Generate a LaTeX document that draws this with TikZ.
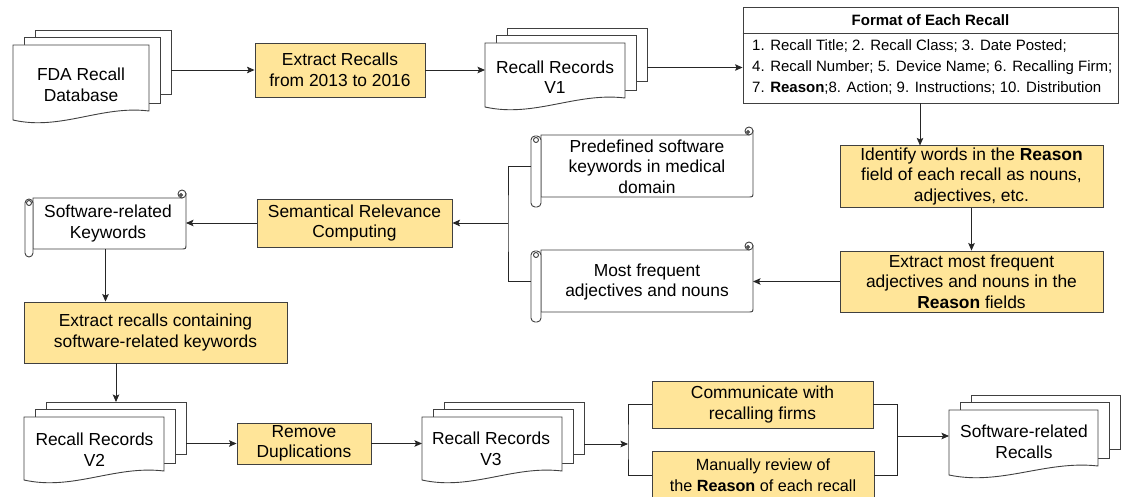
\documentclass[tikz,border=0pt]{standalone}
\usepackage{fontspec}
\setmainfont{Liberation Sans}
\usetikzlibrary{arrows.meta,fit,calc}

\definecolor{boxfill}{HTML}{FFE599}

\newcommand\mainfs{\fontsize{17.4}{20.5}\selectfont}
\newcommand\listfs{\fontsize{15}{21}\selectfont}
\newcommand\notefs{\fontsize{16.2}{21}\selectfont}

\tikzset{
  outline/.style={draw=black!75, line width=0.9pt},
  procbox/.style={outline, fill=boxfill, align=center, inner sep=2pt, font=\mainfs},
  conn/.style={draw=black!85, line width=0.9pt},
  arrowconn/.style={conn, -{Stealth[length=7.5pt,width=6.5pt,inset=1.5pt]}},
  doctext/.style={align=center, font=\mainfs, inner sep=0},
  anchorbox/.style={inner sep=0, outer sep=0},
  pagebox/.style={outline, fill=white, inner sep=0, outer sep=0},
}

% stacked documents: #1 name, #2 left, #3 top, #4 right, #5 bottom of front page,
% #6/#7 text centre, #8 text
\newcommand\multidoc[8]{%
  \node[pagebox, fit={({#2+22},{#3-15}) ({#4+22},{#5-26})}] (#1-p3) {};
  \node[pagebox, fit={({#2+11},{#3-7.5}) ({#4+11},{#5-17})}] (#1-p2) {};
  \draw[outline, fill=white] (#2,#3) -- (#4,#3) -- (#4,{#5-9})
    .. controls ({#4-0.35*(#4-#2)},{#5-15}) and ({#2+0.35*(#4-#2)},{#5+11}) .. (#2,#5) -- cycle;
  \node[anchorbox, fit={(#2,{#3-15}) ({#4+22},#5)}] (#1) {};
  \node[doctext] (#1-text) at (#6,#7) {#8};
}

% scroll: #1 name, #2 left, #3 roll width, #4 right, #5 top, #6 bottom,
% #7/#8 text centre, #9 text
\newcommand\scrollshape[9]{%
  \draw[outline, fill=white] ({#4-4},#5) -- ({#2+#3},#5) -- ({#2+#3},#6) -- ({#4-5},#6)
    .. controls (#4,#6) .. (#4,{#6-5}) -- (#4,{#5-4}) -- cycle;
  \draw[outline, fill=white] ({#4-4},{#5-4}) circle[radius=4pt];
  \draw[outline, fill=black!45] ({#4-5},{#5-3}) circle[radius=1.5pt];
  \draw[outline, fill=white, rounded corners=4pt] (#2,{#5+1}) rectangle ({#2+#3},{#6+#3});
  \draw[outline] ({#2+#3/2},{#5+5}) circle[radius=2.5pt];
  \node[anchorbox, fit={(#2,#5) (#4,#6)}] (#1) {};
  \node[doctext] (#1-text) at (#7,#8) {#9};
}

\begin{document}
\begin{tikzpicture}[x=1pt, y=-1pt]
  \useasboundingbox (0,0) rectangle (1121,497);
  \fill[white] (0,0) rectangle (1121,497);

  % ---- top row ----
  \multidoc{fda}{13}{45}{149}{120}{81}{85}{FDA Recall\\Database}
  \node[procbox, minimum width=170pt, minimum height=54pt] (extract1) at (340,70)
    {Extract Recalls\\from 2013 to 2016};
  \multidoc{v1}{485}{43}{625}{107}{555}{77}{Recall Records\\V1}

  \node[outline, fill=white, minimum width=375pt, minimum height=96pt, inner sep=0] (fmt) at (930.5,55) {};
  \draw[outline] (fmt.west |- 0,33) -- (fmt.east |- 0,33);
  \node[font=\bfseries\listfs, inner sep=0] (fmttitle) at (930.5,20.5) {Format of Each Recall};
  \node[font=\listfs, align=left, anchor=west, inner sep=0] (fmtlist) at (752,67.5)
    {1. Recall Title; 2. Recall Class; 3. Date Posted;\\
     4. Recall Number; 5. Device Name; 6. Recalling Firm;\\
     7. \textbf{Reason};8. Action; 9. Instructions; 10. Distribution};

  % ---- right column ----
  \node[procbox, minimum width=263pt, minimum height=61pt] (identify) at (971.5,176.5)
    {Identify words in the \textbf{Reason}\\field of each recall as nouns,\\adjectives, etc.};
  \node[procbox, minimum width=263pt, minimum height=61pt] (extract2) at (971.5,281.5)
    {Extract most frequent\\adjectives and nouns in the\\\textbf{Reason} fields};

  % ---- keyword sources ----
  \scrollshape{predef}{531}{10}{753}{135}{197}{647}{166.5}{Predefined software\\keywords in medical\\domain}
  \scrollshape{mostfreq}{531}{10}{753}{250}{312}{647}{282}{Most frequent\\adjectives and nouns}

  \node[procbox, minimum width=195pt, minimum height=48pt] (semantic) at (354.5,223)
    {Semantical Relevance\\Computing};
  \scrollshape{keywords}{25}{8}{186}{198}{249}{108}{223.5}{Software-related\\Keywords}

  \node[procbox, minimum width=263pt, minimum height=61pt] (extract3) at (155.5,332.5)
    {Extract recalls containing\\software-related keywords};

  % ---- bottom row ----
  \multidoc{v2}{24}{417}{164}{480}{94.5}{449.5}{Recall Records\\V2}
  \node[procbox, minimum width=134pt, minimum height=41pt] (remove) at (304,443.5)
    {Remove\\Duplications};
  \multidoc{v3}{422}{417}{562}{480}{491}{449}{Recall Records\\V3}
  \node[procbox, minimum width=221pt, minimum height=47pt] (communicate) at (762.5,404.5)
    {Communicate with\\recalling firms};
  \node[procbox, font=\notefs, minimum width=222pt, minimum height=48pt] (manually) at (763,475)
    {Manually review of\\the \textbf{Reason} of each recall};
  \multidoc{srr}{949}{410}{1098}{475}{1024}{442}{Software-related\\Recalls}

  % ---- junction points ----
  \coordinate (kwjoin) at (508,223);
  \coordinate (rvjoin) at (628,444);
  \coordinate (outjoin) at (897,436);

  % ---- connectors ----
  \draw[arrowconn] (fda.east |- extract1.west) -- (extract1.west);
  \draw[arrowconn] (extract1.east) -- (v1.west |- extract1.east);
  \draw[arrowconn] (v1.east) -- (fmt.west |- v1.east);
  \draw[arrowconn] ([xshift=-10.5pt]fmt.south) -- ([xshift=-10.5pt]fmt.south |- identify.north);
  \draw[arrowconn] (identify.south) -- (extract2.north);
  \draw[arrowconn] (extract2.west) -- (mostfreq.east |- extract2.west);
  \draw[conn] (predef.west) -| (kwjoin) |- (mostfreq.west);
  \draw[arrowconn] (kwjoin) -- (semantic.east |- kwjoin);
  \draw[arrowconn] (semantic.west) -- (keywords.east |- semantic.west);
  \draw[arrowconn] (keywords.south) -- (keywords.south |- extract3.north);
  \draw[arrowconn] (v2-p3.north |- extract3.south) -- (v2-p3.north);
  \draw[arrowconn] (v2.east |- remove.west) -- (remove.west);
  \draw[arrowconn] (remove.east) -- (v3.west |- remove.east);
  \draw[arrowconn] (v3.east |- rvjoin) -- (rvjoin);
  \draw[conn] (communicate.west) -| (rvjoin) |- (manually.west);
  \draw[conn] (communicate.east) -| (outjoin) |- (manually.east);
  \draw[arrowconn] (outjoin) -- (srr.west |- outjoin);
\end{tikzpicture}
\end{document}
